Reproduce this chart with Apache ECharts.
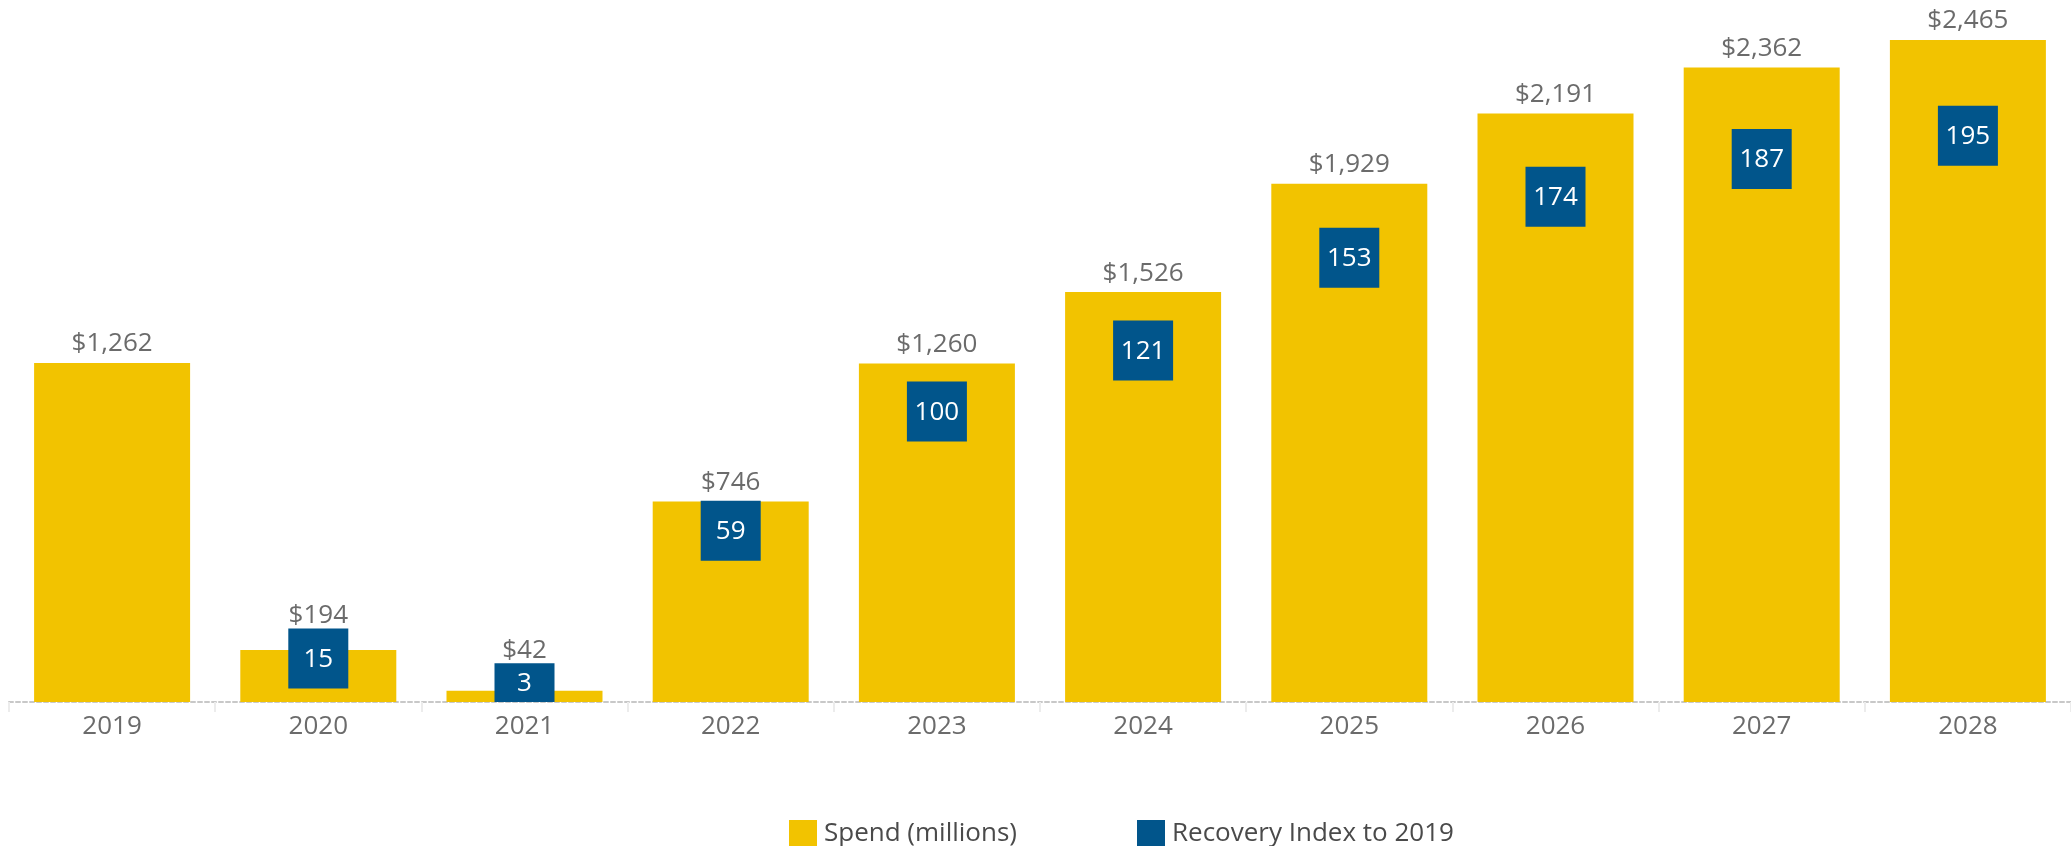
<!DOCTYPE html>
<html>
<head>
<meta charset="utf-8">
<script src="https://cdn.jsdelivr.net/npm/echarts@6/dist/echarts.min.js"></script>
<style>
  html, body { margin: 0; padding: 0; background: #ffffff; }
  #chart { width: 2071px; height: 846px; }
</style>
</head>
<body>
<div id="chart"></div>
<script>
// Annual spend (millions of dollars) and recovery index (2019 = 100)
const years = ['2019', '2020', '2021', '2022', '2023', '2024', '2025', '2026', '2027', '2028'];
const spend = [1262, 194, 42, 746, 1260, 1526, 1929, 2191, 2362, 2465];
const recovery = [null, 15, 3, 59, 100, 121, 153, 174, 187, 195];

const YELLOW = '#F2C300';
const BLUE = '#01558B';
const FONT = '"Open Sans", "Liberation Sans", sans-serif';

const W = 2071, H = 846;
const GRID = { left: 9, right: 0, top: 30.5, bottom: 144 };
const SPEND_MAX = 2500;
const INDEX_MAX = 231.2;
const BOX = 60;

const chart = echarts.init(document.getElementById('chart'), null, { renderer: 'canvas' });

// Pixel scales of both value axes, used to lift a spend label clear of a box that rises above its bar
const plotH = H - GRID.top - GRID.bottom;
const spendPx = plotH / SPEND_MAX;
const indexPx = plotH / INDEX_MAX;

const barData = spend.map((v, i) => {
  const item = { value: v };
  const r = recovery[i];
  if (r != null) {
    const barTop = v * spendPx;
    const boxTop = r * indexPx + BOX / 2;
    const lift = boxTop - barTop - 6;
    if (lift > 0) {
      item.label = { offset: [0, -lift] };
    }
  }
  return item;
});

// Index boxes: square markers centred on the index value, clipped at the baseline
const boxData = [];
recovery.forEach((v, i) => { if (v != null) boxData.push([i, v]); });

function renderBox(params, api) {
  const p = api.coord([api.value(0), api.value(1)]);
  const cs = params.coordSys;
  const base = cs.y + cs.height;
  const top = p[1] - BOX / 2;
  const bottom = Math.min(p[1] + BOX / 2, base);
  return {
    type: 'group',
    children: [
      {
        type: 'rect',
        shape: { x: p[0] - BOX / 2, y: top, width: BOX, height: bottom - top },
        style: { fill: BLUE }
      },
      {
        type: 'text',
        style: {
          text: String(api.value(1)),
          x: p[0],
          y: (top + bottom) / 2 + 1,
          fill: '#ffffff',
          font: '26px ' + FONT,
          align: 'center',
          verticalAlign: 'middle'
        }
      }
    ]
  };
}

chart.setOption({
  animation: false,
  textStyle: { fontFamily: FONT },
  grid: Object.assign({ containLabel: false }, GRID),
  legend: {
    left: 784,
    top: 815,
    icon: 'rect',
    itemWidth: 28,
    itemHeight: 28,
    itemGap: 120,
    textStyle: { fontSize: 26, color: '#4a4a4a', fontFamily: FONT, padding: [0, 0, 0, 2] },
    data: ['Spend (millions)', 'Recovery Index to 2019']
  },
  xAxis: {
    type: 'category',
    data: years,
    axisLine: { show: true, lineStyle: { color: '#c8c8c8', width: 2, type: [4, 3] } },
    axisTick: { show: true, length: 10, lineStyle: { color: '#ececec', width: 2 } },
    axisLabel: { fontSize: 26, color: '#6b6b6b', margin: 12, fontFamily: FONT }
  },
  yAxis: [
    { type: 'value', min: 0, max: SPEND_MAX, show: false, splitLine: { show: false } },
    { type: 'value', min: 0, max: INDEX_MAX, show: false, splitLine: { show: false } }
  ],
  series: [
    {
      name: 'Spend (millions)',
      type: 'bar',
      data: barData,
      barWidth: 156,
      itemStyle: { color: YELLOW },
      label: {
        show: true,
        position: 'top',
        distance: 6,
        fontSize: 26,
        color: '#6b6b6b',
        fontFamily: FONT,
        formatter: (p) => '$' + p.value.toLocaleString('en-US')
      },
      z: 2
    },
    {
      name: 'Recovery Index to 2019',
      type: 'custom',
      yAxisIndex: 1,
      data: boxData,
      encode: { x: 0, y: 1 },
      itemStyle: { color: BLUE },
      renderItem: renderBox,
      z: 3
    }
  ]
});
</script>
</body>
</html>
